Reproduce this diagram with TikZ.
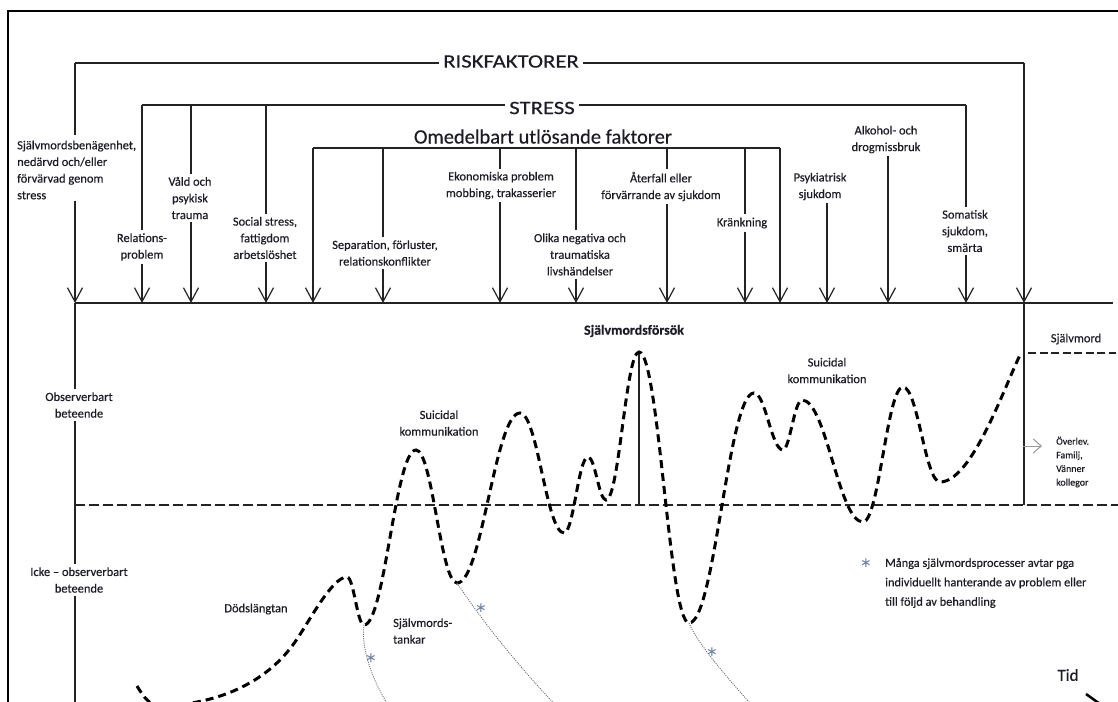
\documentclass[tikz,border=0pt]{standalone}
\usepackage{fontspec}
\setmainfont{Carlito}[FakeBold=0.35]
\newfontfamily\dejavu{DejaVu Sans}
\usepackage{graphicx}
\usetikzlibrary{arrows.meta}
\definecolor{txt}{RGB}{28,28,40}
\definecolor{ln}{RGB}{35,35,35}
\definecolor{dotc}{RGB}{110,110,110}
\definecolor{starc}{RGB}{105,130,165}
\begin{document}
\begin{tikzpicture}[x=1bp,y=-1bp,
  every node/.style={text=txt},
  lab/.style={font=\fontsize{12.5}{16.7}\selectfont, align=center, inner sep=3bp},
  rule/.style={draw=ln, line width=1.2bp},
  dn/.style={rule, -{Straight Barb[length=14bp,width=15bp]}},
  ttl/.style={font=\fontsize{19}{22}\selectfont, inner sep=4bp},
  curve/.style={line width=3bp, dash pattern=on 8bp off 5bp, draw=black},
  fade/.style={draw=dotc, line width=0.9bp, dash pattern=on 1bp off 1.2bp},
  star/.style={text=starc, font=\dejavu\fontsize{14}{14}\selectfont, inner sep=0},
  hdash/.style={draw=ln, line width=1.1bp, dash pattern=on 10bp off 4bp},
]
\useasboundingbox (0,0) rectangle (1118,702);
\clip (0,0) rectangle (1118,702);
\fill[white] (0,0) rectangle (1118,702);
% frame
\draw[line width=1.5bp, draw=black] (8,712) -- (8,11) -- (1130,11);

% ---------- RISKFAKTORER ----------
\coordinate (rL) at (75,63);
\coordinate (rR) at (1024,63);
\coordinate (tL) at (75,303);
\coordinate (tR) at (1024,303);
\node[ttl] (risk) at (511,61.5) {\scalebox{1.2}[1]{RISKFAKTORER}};
\draw[rule] (rL) -- (risk.west |- rL);
\draw[rule] (risk.east |- rR) -- (rR);
\node[lab, align=left, anchor=west, inner sep=1bp] (sb) at (16,170)
  {Självmordsbenägenhet,\\nedärvd och/eller\\förvärvad genom\\stress};
\draw[rule, shorten >=4bp] (rL) -- (rL |- sb.north);
\draw[dn] (tL |- sb.south) -- (tL);
\draw[dn] (rR) -- (tR);
\coordinate (vR) at (1024,505);
\draw[rule] (tR) -- (vR);

% ---------- STRESS ----------
\coordinate (sL) at (142,105);
\coordinate (sR) at (966,105);
\node[ttl] (stress) at (542,108) {\scalebox{1.2}[1]{STRESS}};
\draw[rule] (sL) -- (stress.west |- sL);
\draw[rule] (stress.east |- sR) -- (sR);
\coordinate (s2) at (191,105);
\coordinate (s3) at (266,105);
\coordinate (t1) at (142,303);
\coordinate (t2) at (191,303);
\coordinate (t3) at (266,303);
\coordinate (t4) at (966,303);
\node[lab] (rel) at (142,247) {Relations-\\problem};
\node[lab] (vald) at (190,198) {Våld och\\psykisk\\trauma};
\node[lab] (soc) at (265,238) {Social stress,\\fattigdom\\arbetslöshet};
\node[lab] (som) at (965,231) {Somatisk\\sjukdom,\\smärta};
\draw[rule] (sL) -- (sL |- rel.north);
\draw[dn] (t1 |- rel.south) -- (t1);
\draw[rule] (s2) -- (s2 |- vald.north);
\draw[dn] (t2 |- vald.south) -- (t2);
\draw[rule] (s3) -- (s3 |- soc.north);
\draw[dn] (t3 |- soc.south) -- (t3);
\draw[rule] (sR) -- (sR |- som.north);
\draw[dn] (t4 |- som.south) -- (t4);

% ---------- Omedelbart ----------
\coordinate (oL) at (313,148);
\coordinate (oR) at (780,148);
\node[font=\fontsize{20.5}{24}\selectfont, inner sep=0] (omed) at (543,136.5) {Omedelbart utlösande faktorer};
\draw[rule] (oL) -- (oR);
\coordinate (o2) at (383,148);
\coordinate (o3) at (500,148);
\coordinate (o4) at (576,148);
\coordinate (o5) at (667,148);
\coordinate (o6) at (745,148);
\coordinate (u1) at (313,303);
\coordinate (u2) at (383,303);
\coordinate (u3) at (500,303);
\coordinate (u4) at (576,303);
\coordinate (u5) at (667,303);
\coordinate (u6) at (745,303);
\coordinate (u7) at (780,303);
\node[lab] (sep) at (385,253) {Separation, förluster,\\relationskonflikter};
\node[lab] (eko) at (501,185.5) {Ekonomiska problem\\mobbing, trakasserier};
\node[lab] (oli) at (580,254.5) {Olika negativa och\\traumatiska\\livshändelser};
\node[lab] (ate) at (661,186.5) {Återfall eller\\förvärrande av sjukdom};
\node[lab] (kra) at (742,223) {Kränkning};
\draw[dn] (oL) -- (u1);
\draw[rule] (o2) -- (o2 |- sep.north);
\draw[dn] (u2 |- sep.south) -- (u2);
\draw[rule] (o3) -- (o3 |- eko.north);
\draw[dn] (u3 |- eko.south) -- (u3);
\draw[rule] (o4) -- (o4 |- oli.north);
\draw[dn] (u4 |- oli.south) -- (u4);
\draw[rule] (o5) -- (o5 |- ate.north);
\draw[dn] (u5 |- ate.south) -- (u5);
\draw[rule] (o6) -- (o6 |- kra.north);
\draw[dn] (u6 |- kra.south) -- (u6);
\draw[dn] (oR) -- (u7);

% ---------- free factors ----------
\coordinate (f1) at (827,303);
\coordinate (f2) at (888,303);
\node[lab] (psy) at (820,186.5) {Psykiatrisk\\sjukdom};
\node[lab] (alk) at (886,139.5) {Alkohol- och\\drogmissbruk};
\draw[dn] (f1 |- psy.south) -- (f1);
\draw[dn] (f2 |- alk.south) -- (f2);

% ---------- base line and axes ----------
\coordinate (b1) at (1113,303);
\draw[rule] (tL) -- (b1);
\node[lab] (obs) at (79,405) {Observerbart\\beteende};
\node[lab] (icke) at (79,580) {Icke – observerbart\\beteende};
\coordinate (ax) at (75,712);
\draw[rule] (tL) -- (tL |- obs.north);
\draw[rule] (tL |- obs.south) -- (tL |- icke.north);
\draw[rule] (tL |- icke.south) -- (ax);
\coordinate (d0) at (75,505);
\coordinate (d1) at (1120,505);
\draw[hdash] (d0) -- (d1);

% peak marker
\coordinate (pk) at (639,352);
\draw[rule] (pk) -- (pk |- d0);

% Självmord
\node[lab] (sm) at (1076,339) {Självmord};
\coordinate (sm0) at (1028,353);
\coordinate (sm1) at (1116,353);
\draw[hdash, dash pattern=on 8bp off 3.5bp] (sm0) -- (sm1);

% Överlev
\node[font=\fontsize{10}{13.7}\selectfont, align=left, anchor=west, inner sep=0] (ov) at (1056,462)
  {Överlev.\\Familj,\\Vänner\\kollegor};
\coordinate (ova) at (1023,446);
\coordinate (ovb) at (1042,446);
\draw[draw=gray!80, line width=1bp, -{Straight Barb[length=8bp,width=14bp]}] (ova) -- (ovb);

% labels on curve
\node[font=\bfseries\fontsize{14}{16}\selectfont, inner sep=0] (forsok) at (634,331) {Självmordsförsök};
\node[lab] (sk1) at (439,423) {Suicidal\\kommunikation};
\node[lab] (sk2) at (827,370.5) {Suicidal\\kommunikation};
\node[lab] (dod) at (256,609) {Dödslängtan};
\node[lab, align=left, anchor=west, inner sep=0] (tank) at (393,631) {Självmords-\\tankar};

% main curve
\draw[curve] (137,686) .. controls (145,699) and (150,706) .. (162,706)
 .. controls (215,704) and (265,685) .. (295,642)
 .. controls (309,622) and (332,577) .. (347,577)
 .. controls (353.8,577) and (357.2,625) .. (364,625)
 .. controls (384.8,625) and (395.2,450) .. (416,450)
 .. controls (432.4,450) and (440.6,583) .. (457,583)
 .. controls (482.2,583) and (494.8,413) .. (520,413)
 .. controls (537.6,413) and (546.4,533) .. (564,533)
 .. controls (573.6,533) and (578.4,457) .. (588,457)
 .. controls (595.2,457) and (598.8,500) .. (606,500)
 .. controls (619.2,500) and (625.8,352) .. (639,352)
 .. controls (659,352) and (669,623) .. (689,623)
 .. controls (715,623) and (728,393) .. (754,393)
 .. controls (765.6,393) and (771.4,450) .. (783,450)
 .. controls (789.6,450) and (794.4,400) .. (802,400)
 .. controls (826.4,400) and (838.6,522) .. (863,522)
 .. controls (879,522) and (887,387) .. (903,387)
 .. controls (917.8,387) and (925.2,482) .. (940,482)
 .. controls (972,482) and (1005,385) .. (1021,353);

% fading processes
\draw[fade] (364,625) .. controls (360,650) and (376,690) .. (395,715);
\draw[fade] (457,583) .. controls (485,625) and (520,668) .. (562,712);
\draw[fade] (689,623) .. controls (696,640) and (718,668) .. (758,712);
\node[star] (st1) at (371,658) {∗};
\node[star] (st2) at (481,608) {∗};
\node[star] (st3) at (712,652) {∗};

% legend
\node[star] (st4) at (866,563) {∗};
\node[font=\fontsize{12.4}{19.5}\selectfont, align=left, anchor=west, inner sep=0] (leg) at (885,583)
  {Många självmordsprocesser avtar pga\\individuellt hanterande av problem eller\\till följd av behandling};

% time
\node[font=\fontsize{17}{20}\selectfont, inner sep=0] (tid) at (1068,675) {Tid};
\coordinate (ta) at (1086,694);
\coordinate (tb) at (1100,704);
\draw[line width=2.5bp] (ta) -- (tb);
\end{tikzpicture}
\end{document}
